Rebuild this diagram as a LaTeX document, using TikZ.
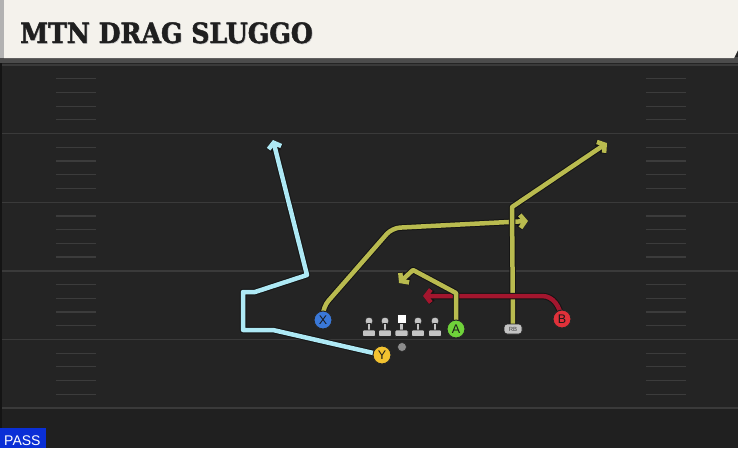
\documentclass[tikz,border=0pt]{standalone}
\usepackage{fontspec}
\setmainfont{Liberation Sans}
\newfontfamily\titlefont{DejaVu Serif}[BoldFeatures={FakeBold=1.5,FakeStretch=0.9}]
\usetikzlibrary{arrows.meta}
\pgfdeclarelayer{field}
\pgfdeclarelayer{routes}
\pgfsetlayers{field,routes,main}
\definecolor{bgc}{HTML}{242424}
\definecolor{fline}{HTML}{3A3A3A}
\definecolor{hash}{HTML}{3C3C3C}
\definecolor{cream}{HTML}{F4F2EC}
\definecolor{cyanr}{HTML}{AEE9F5}
\definecolor{olive}{HTML}{B9BB4F}
\definecolor{redr}{HTML}{A3162E}
\definecolor{xblue}{HTML}{3A78D8}
\definecolor{yyel}{HTML}{F2C230}
\definecolor{agreen}{HTML}{6FD23A}
\definecolor{bred}{HTML}{E0313A}
\definecolor{lgray}{HTML}{C4C4C4}
\definecolor{passblue}{HTML}{0A2FD6}
\tikzset{
  outl/.style={line width=6.5pt, draw=black!92, line cap=round, line join=round},
  route/.style={line width=4.5pt, line cap=round, line join=round},
  tipd/.style={-{Straight Barb[length=5pt,width=13pt]}},
  player/.style={circle, minimum size=18pt, inner sep=0pt, draw=black!85, line width=1pt, font=\fontsize{12.5}{12.5}\selectfont, text=black!90},
  rbstyle/.style={rectangle, rounded corners=3pt, minimum width=18pt, minimum height=10pt, inner sep=0pt, fill=lgray, draw=black!85, line width=0.8pt, font=\fontsize{6}{6}\selectfont, text=black!75},
  man/.style={fill=lgray, draw=black!85, line width=0.8pt},
}
\newcommand\routeline[2]{\draw[outl,tipd] #2; \draw[route,tipd,draw=#1] #2;}
\begin{document}
\begin{tikzpicture}[x=1pt,y=-1pt]
\useasboundingbox (0,0) rectangle (738,448);
\begin{pgfonlayer}{field}
\fill[bgc] (0,0) rectangle (738,448);
\fill[black!12!bgc] (0,408) rectangle (738,448);
\foreach \i in {0,...,5} {
  \draw[fline, line width=1.4pt] (0,{65+68.6*\i}) -- (738,{65+68.6*\i});
}
\foreach \i in {0,...,4} {
  \foreach \k in {1,2,3,4} {
    \draw[hash, line width=1.2pt] (56,{65+68.6*\i+13.7*\k}) -- (96,{65+68.6*\i+13.7*\k});
    \draw[hash, line width=1.2pt] (646,{65+68.6*\i+13.7*\k}) -- (686,{65+68.6*\i+13.7*\k});
  }
}
\fill[black!45!bgc] (0,63) rectangle (2,448);
% header
\fill[black!70] (0,57) rectangle (738,63);
\fill[cream] (4,0) -- (738,0) -- (738,50) -- (734,58) -- (4,58) -- cycle;
\fill[black!30] (0,0) rectangle (4,58);
\end{pgfonlayer}
\node[anchor=base west, inner sep=0pt, text=black!22] (titleshadow) at (20.7,43.7) {\titlefont\bfseries\fontsize{28}{28}\selectfont MTN DRAG SLUGGO};
\node[anchor=base west, inner sep=0pt, text=black!88] (title) at (20,43) {\titlefont\bfseries\fontsize{28}{28}\selectfont MTN DRAG SLUGGO};
% players
\node[player, fill=xblue] (X) at (323,320) {X};
\node[player, fill=yyel] (Y) at (382,355) {Y};
\node[player, fill=agreen] (A) at (456,329) {A};
\node[player, fill=bred] (B) at (562,319) {B};
\node[rbstyle] (RB) at (513,329) {RB};
\node[circle, fill=black!45, draw=black!85, line width=0.6pt, minimum size=9pt, inner sep=0pt] (QB) at (402,347) {};
% linemen
\foreach \x in {369,385,418,435} {
  \filldraw[man] (\x,321) circle (4pt);
}
\filldraw[fill=white, draw=black!85, line width=0.8pt] (397,314) rectangle (406,323);
\foreach \x in {369,385,401.5,418,435} {
  \filldraw[man] (\x-1.8,323) rectangle (\x+1.8,331);
  \filldraw[man, rounded corners=1pt] (\x-6.5,330) rectangle (\x+6.5,336.5);
}
% routes
\coordinate (y1) at (273,330);
\coordinate (y2) at (243,330);
\coordinate (y3) at (243,292);
\coordinate (y4) at (255,292);
\coordinate (y5) at (307,275);
\coordinate (yend) at (273,140);
\coordinate (x1) at (323,307);
\coordinate (x2) at (392,228);
\coordinate (xend) at (528,221);
\coordinate (a1) at (456,293);
\coordinate (a2) at (413,270);
\coordinate (aend) at (399,283);
\coordinate (r1) at (512,207);
\coordinate (rend) at (607,143);
\coordinate (b1) at (542,296);
\coordinate (bend) at (423,296);
\begin{pgfonlayer}{routes}
\routeline{cyanr}{(Y.center) -- (y1) -- (y2) -- (y3) -- (y4) -- (y5) -- (yend)}
\routeline{olive}{[rounded corners=8pt] (X.center) -- (x1) -- (x2) -- (xend)}
\routeline{olive}{(RB.center) -- (r1) -- (rend)}
\routeline{redr}{(B.center) to[out=100,in=0] (b1) -- (bend)}
\routeline{olive}{(A.center) -- (a1) -- (a2) -- (aend)}
\end{pgfonlayer}
% pass label
\fill[passblue] (0,428) rectangle (46,448);
\node[anchor=base west, inner sep=0pt, text=white, font=\fontsize{14}{14}\selectfont] (pass) at (4,445) {PASS};
\end{tikzpicture}
\end{document}
